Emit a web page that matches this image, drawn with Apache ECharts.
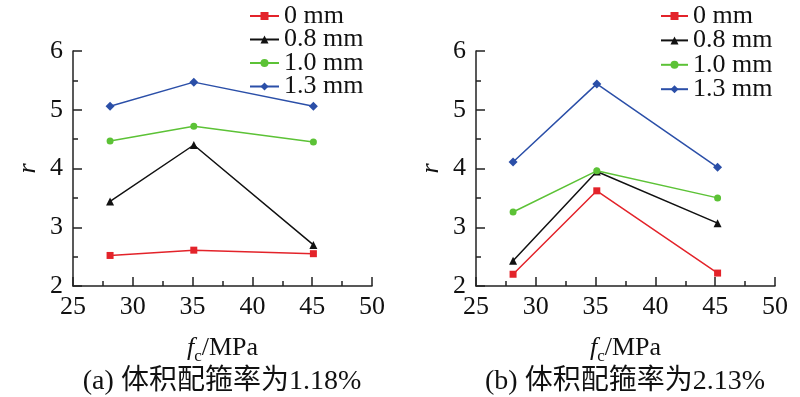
<!DOCTYPE html>
<html>
<head>
<meta charset="utf-8">
<script src="https://cdn.jsdelivr.net/npm/echarts@6/dist/echarts.min.js"></script>
<style>
  html, body { margin: 0; padding: 0; background: #fff; }
  #chart { width: 800px; height: 397px; }
</style>
</head>
<body>
<div id="chart"></div>
<script>
// legend names
var names = ["0 mm", "0.8 mm", "1.0 mm", "1.3 mm"];
var colors = ["#e3232a", "#111111", "#5cc236", "#2b4fa8"];
var symbols = ["rect", "triangle", "circle", "diamond"];
var symbolSizes = [7, 8, 7, 9];

// x values (fc, MPa)
var xA = [28.1, 35.1, 45.1];
var xB = [28.1, 35.1, 45.2];

// (a) 1.18%
var aRed = [2.52, 2.61, 2.55];
var aBlack = [3.44, 4.40, 2.70];
var aGreen = [4.47, 4.72, 4.45];
var aBlue = [5.06, 5.47, 5.06];

// (b) 2.13%
var bRed = [2.20, 3.62, 2.22];
var bBlack = [2.43, 3.95, 3.07];
var bGreen = [3.26, 3.96, 3.50];
var bBlue = [4.11, 5.44, 4.02];

var captions = ["(a) 体积配箍率为1.18%", "(b) 体积配箍率为2.13%"];

var font = "'Liberation Serif', 'Noto Sans CJK SC', serif";

function pairs(xs, ys) {
  return xs.map(function (x, i) { return [x, ys[i]]; });
}

function makeSeries(idx, xs, groups) {
  return groups.map(function (ys, k) {
    return {
      name: names[k],
      type: "line",
      xAxisIndex: idx,
      yAxisIndex: idx,
      data: pairs(xs, ys),
      symbol: symbols[k],
      symbolSize: symbolSizes[k],
      lineStyle: { color: colors[k], width: 1.5 },
      itemStyle: { color: colors[k] },
      emphasis: { disabled: true },
      z: 3 + k
    };
  });
}

function xAxis(idx) {
  return {
    type: "value",
    gridIndex: idx,
    min: 25,
    max: 50,
    interval: 5,
    name: "{i|f}{s|c}{n|/MPa}",
    nameLocation: "middle",
    nameGap: 46,
    nameTextStyle: {
      rich: {
        i: { fontFamily: font, fontSize: 26, fontStyle: "italic", color: "#111" },
        s: { fontFamily: font, fontSize: 17, color: "#111", verticalAlign: "bottom", padding: [16, 0, 0, 0] },
        n: { fontFamily: font, fontSize: 26, color: "#111" }
      }
    },
    axisLine: { show: true, onZero: false, lineStyle: { color: "#222", width: 1.5 } },
    axisTick: { show: true, inside: true, length: 9, lineStyle: { color: "#222", width: 1.5 } },
    minorTick: { show: true, splitNumber: 2, length: 5, lineStyle: { color: "#222", width: 1.5 } },
    splitLine: { show: false },
    axisLabel: { fontFamily: font, fontSize: 26, color: "#111", margin: 8 }
  };
}

function yAxis(idx) {
  return {
    type: "value",
    gridIndex: idx,
    min: 2,
    max: 6,
    interval: 1,
    name: "r",
    nameLocation: "middle",
    nameGap: 32,
    nameRotate: 90,
    nameTextStyle: { fontFamily: font, fontSize: 26, fontStyle: "italic", color: "#111" },
    axisLine: { show: true, onZero: false, lineStyle: { color: "#222", width: 1.5 } },
    axisTick: { show: true, inside: true, length: 9, lineStyle: { color: "#222", width: 1.5 } },
    minorTick: { show: true, splitNumber: 2, length: 5, lineStyle: { color: "#222", width: 1.5 } },
    splitLine: { show: false },
    axisLabel: { fontFamily: font, fontSize: 26, color: "#111", margin: 10 }
  };
}

function legend(left, width, gap) {
  return {
    data: names,
    orient: "vertical",
    left: left,
    top: -2,
    itemWidth: width,
    itemHeight: 10,
    itemGap: gap,
    selectedMode: false,
    textStyle: { fontFamily: font, fontSize: 26, color: "#111" }
  };
}

var chart = echarts.init(document.getElementById("chart"));
chart.setOption({
  animation: false,
  backgroundColor: "#fff",
  grid: [
    { left: 73, top: 51, width: 299, height: 235 },
    { left: 476, top: 51, width: 299, height: 235 }
  ],
  xAxis: [xAxis(0), xAxis(1)],
  yAxis: [yAxis(0), yAxis(1)],
  legend: [legend(244, 29, -2.5), legend(655, 27, -1.6)],
  series: makeSeries(0, xA, [aRed, aBlack, aGreen, aBlue])
    .concat(makeSeries(1, xB, [bRed, bBlack, bGreen, bBlue])),
  graphic: [
    {
      type: "text", x: 222, y: 382,
      style: { text: captions[0], font: "28px " + font, fill: "#111", textAlign: "center", textVerticalAlign: "middle" }
    },
    {
      type: "text", x: 625, y: 382,
      style: { text: captions[1], font: "28px " + font, fill: "#111", textAlign: "center", textVerticalAlign: "middle" }
    }
  ]
});
</script>
</body>
</html>
